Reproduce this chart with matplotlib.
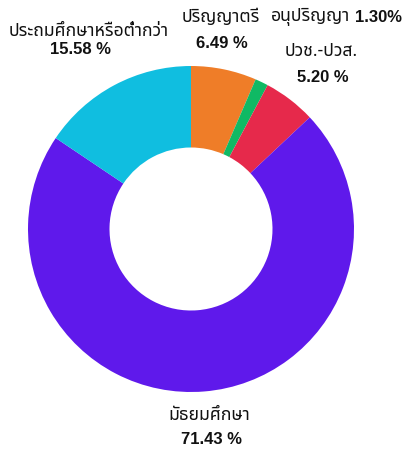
import matplotlib
matplotlib.use("Agg")
from matplotlib import pyplot as plt

labels = ["ปริญญาตรี", "อนุปริญญา", "ปวช.-ปวส.", "มัธยมศึกษา", "ประถมศึกษาหรือต่ำกว่า"]
values = [6.49, 1.30, 5.20, 71.43, 15.58]
colors = ["#EF7D28", "#10B964", "#E6294B", "#5F19EB", "#10BEE0"]

W, H = 403, 451
cx, cy, r = 191, 229, 163  # pie centre and radius in pixels (from the top-left)

def pos(px, py):
    # pixel position -> data units with the pie at (0, 0), radius 1
    return (px - cx) / r, (cy - py) / r

fig = plt.figure(figsize=(W / 100, H / 100), dpi=100)
ax = fig.add_axes([0, 0, 1, 1])
ax.pie(values, colors=colors, startangle=90, counterclock=False, radius=1,
       wedgeprops=dict(width=0.5, linewidth=0))
ax.set_xlim(-cx / r, (W - cx) / r)
ax.set_ylim(-(H - cy) / r, cy / r)
ax.set_aspect("auto")
ax.axis("off")

thai = dict(family=["Noto Sans Thai", "DejaVu Sans"], fontsize=12.7, ha="center", va="center", color="#111111")
num = dict(family=["Liberation Sans", "DejaVu Sans"], fontsize=12, fontweight="bold", ha="center", va="center", color="#111111")

# label spots (pixels)
name_xy = [(221, 17), None, (321, 51), (209, 415), (89, 31)]
pct_xy = [(222, 43), None, (323, 78), (212, 440), (81, 49)]
for i, lab in enumerate(labels):
    if name_xy[i] is None:
        continue
    ax.text(*pos(*name_xy[i]), lab, **thai)
    ax.text(*pos(*pct_xy[i]), "%.2f %%" % values[i], **num)

# the small slice has its label and value on one line
ax.text(*pos(311, 17), labels[1], **thai)
ax.text(*pos(378, 17), "%.2f%%" % values[1], **num)

fig.savefig("out.png")
